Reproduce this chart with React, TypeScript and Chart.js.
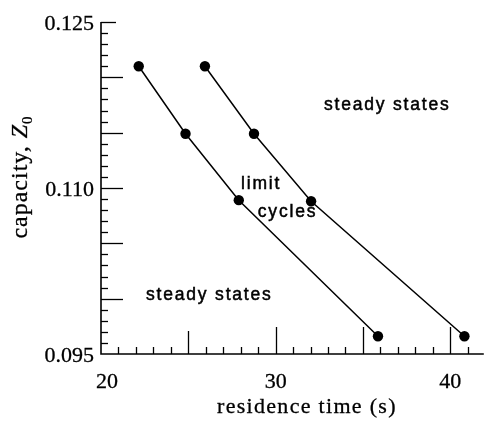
import React, { useEffect, useRef } from "react";
import { Chart, registerables } from "chart.js";

Chart.register(...registerables);

// Boundary curves between steady states and limit cycles
const leftBoundaryX = [22.16, 24.84, 27.89, 35.86];
const leftBoundaryY = [0.121, 0.1149, 0.1089, 0.0966];
const rightBoundaryX = [25.95, 28.76, 32.03, 40.81];
const rightBoundaryY = [0.121, 0.1149, 0.1088, 0.0966];

// Axis tick labels
const xTickValues = [20, 30, 40];
const xTickLabels = ["20", "30", "40"];
const yTickValues = [0.125, 0.11, 0.095];
const yTickLabels = ["0.125", "0.110", "0.095"];

// Region annotations (text, x, y in data units, left-aligned baseline)
const regionTexts = ["steady states", "limit", "cycles", "steady states"];
const regionX = [32.77, 28.02, 28.98, 22.58];
const regionY = [0.11709, 0.10992, 0.1074, 0.09988];

const X_MIN = 20;
const X_MAX = 41.92;
const Y_MIN = 0.095;
const Y_MAX = 0.125;

const axesPlugin = {
  id: "paperAxes",
  afterDraw(chart: any) {
    const ctx = chart.ctx as CanvasRenderingContext2D;
    const xs = chart.scales.x;
    const ys = chart.scales.y;
    const { left, right, bottom } = chart.chartArea;
    ctx.save();
    ctx.strokeStyle = "#000";
    ctx.fillStyle = "#000";
    // axis lines
    ctx.lineWidth = 1.6;
    ctx.beginPath();
    ctx.moveTo(left, ys.getPixelForValue(Y_MAX));
    ctx.lineTo(left, bottom);
    ctx.lineTo(right, bottom);
    ctx.stroke();

    // y ticks
    ctx.lineWidth = 1.3;
    for (let i = 1; i <= 30; i++) {
      const v = Y_MIN + i * 0.001;
      const py = Math.round(ys.getPixelForValue(v)) + 0.5;
      let len = 7;
      if (i % 5 === 0) len = 22;
      if (i === 30) len = 15;
      ctx.beginPath();
      ctx.moveTo(left, py);
      ctx.lineTo(left + len, py);
      ctx.stroke();
    }
    // x ticks
    for (let v = 21; v <= 41; v++) {
      const px = Math.round(xs.getPixelForValue(v)) + 0.5;
      let len = 7;
      if (v % 5 === 0) len = v === 25 ? 23 : 27;
      ctx.beginPath();
      ctx.moveTo(px, bottom);
      ctx.lineTo(px, bottom - len);
      ctx.stroke();
    }

    const heavy = (t: string, x: number, y: number, w: number) => {
      ctx.fillText(t, x, y);
      ctx.lineWidth = w;
      ctx.strokeText(t, x, y);
    };

    // tick labels
    ctx.font = "22px 'Liberation Serif', 'Times New Roman', serif";
    (ctx as any).letterSpacing = "0px";
    ctx.textAlign = "right";
    ctx.textBaseline = "middle";
    yTickValues.forEach((v, i) => {
      heavy(yTickLabels[i], left - 7, ys.getPixelForValue(v) + 2, 0.3);
    });
    ctx.textAlign = "center";
    ctx.textBaseline = "alphabetic";
    xTickValues.forEach((v, i) => {
      const off = i === 0 ? 6 : 0;
      heavy(xTickLabels[i], xs.getPixelForValue(v) + off, bottom + 34, 0.3);
    });

    // x title
    (ctx as any).letterSpacing = "1.3px";
    ctx.textAlign = "left";
    heavy("residence time (s)", 217, bottom + 59, 0.3);

    // y title (rotated)
    ctx.save();
    ctx.translate(27, 177);
    ctx.rotate(-Math.PI / 2);
    (ctx as any).letterSpacing = "1px";
    const fReg = "24px 'Liberation Serif', 'Times New Roman', serif";
    const fIt = "italic 24px 'Liberation Serif', 'Times New Roman', serif";
    const fSub = "15px 'Liberation Serif', 'Times New Roman', serif";
    ctx.font = fReg;
    const w1 = ctx.measureText("capacity, ").width;
    ctx.font = fIt;
    const w2 = ctx.measureText("Z").width;
    ctx.font = fSub;
    const w3 = ctx.measureText("0").width;
    let x0 = -(w1 + w2 + w3) / 2;
    ctx.textAlign = "left";
    ctx.font = fReg;
    heavy("capacity, ", x0, 0, 0.3);
    x0 += w1;
    ctx.font = fIt;
    heavy("Z", x0, 0, 0.3);
    x0 += w2;
    ctx.font = fSub;
    heavy("0", x0, 5, 0.2);
    ctx.restore();

    // region annotations
    ctx.font = "17.5px 'Liberation Sans', Arial, sans-serif";
    (ctx as any).letterSpacing = "1.8px";
    ctx.textAlign = "left";
    ctx.textBaseline = "alphabetic";
    regionTexts.forEach((t, i) => {
      heavy(t, xs.getPixelForValue(regionX[i]), ys.getPixelForValue(regionY[i]), 0.5);
    });
    ctx.restore();
  },
};

export default function App() {
  const ref = useRef<HTMLCanvasElement | null>(null);
  useEffect(() => {
    document.body.style.margin = "0";
    const canvas = ref.current!;
    const toPts = (xs: number[], ys: number[]) => xs.map((x, i) => ({ x, y: ys[i] }));
    const ds = (xs: number[], ys: number[]) => ({
      data: toPts(xs, ys),
      showLine: true,
      borderColor: "#000",
      backgroundColor: "#000",
      borderWidth: 1.5,
      pointRadius: 5.2,
      pointBorderWidth: 0,
      pointBackgroundColor: "#000",
      tension: 0,
      clip: false as any,
    });
    const chart = new Chart(canvas, {
      type: "scatter",
      data: {
        datasets: [ds(leftBoundaryX, leftBoundaryY), ds(rightBoundaryX, rightBoundaryY)],
      },
      options: {
        animation: false,
        responsive: false,
        devicePixelRatio: 1,
        layout: { padding: { left: 101, right: 0, top: 22, bottom: 69 } },
        plugins: { legend: { display: false }, tooltip: { enabled: false } },
        events: [],
        scales: {
          x: { type: "linear", min: X_MIN, max: X_MAX, display: false },
          y: { type: "linear", min: Y_MIN, max: Y_MAX, display: false },
        },
      },
      plugins: [axesPlugin],
    });
    return () => chart.destroy();
  }, []);
  return <canvas ref={ref} width={489} height={423} style={{ display: "block", background: "#fff" }} />;
}
